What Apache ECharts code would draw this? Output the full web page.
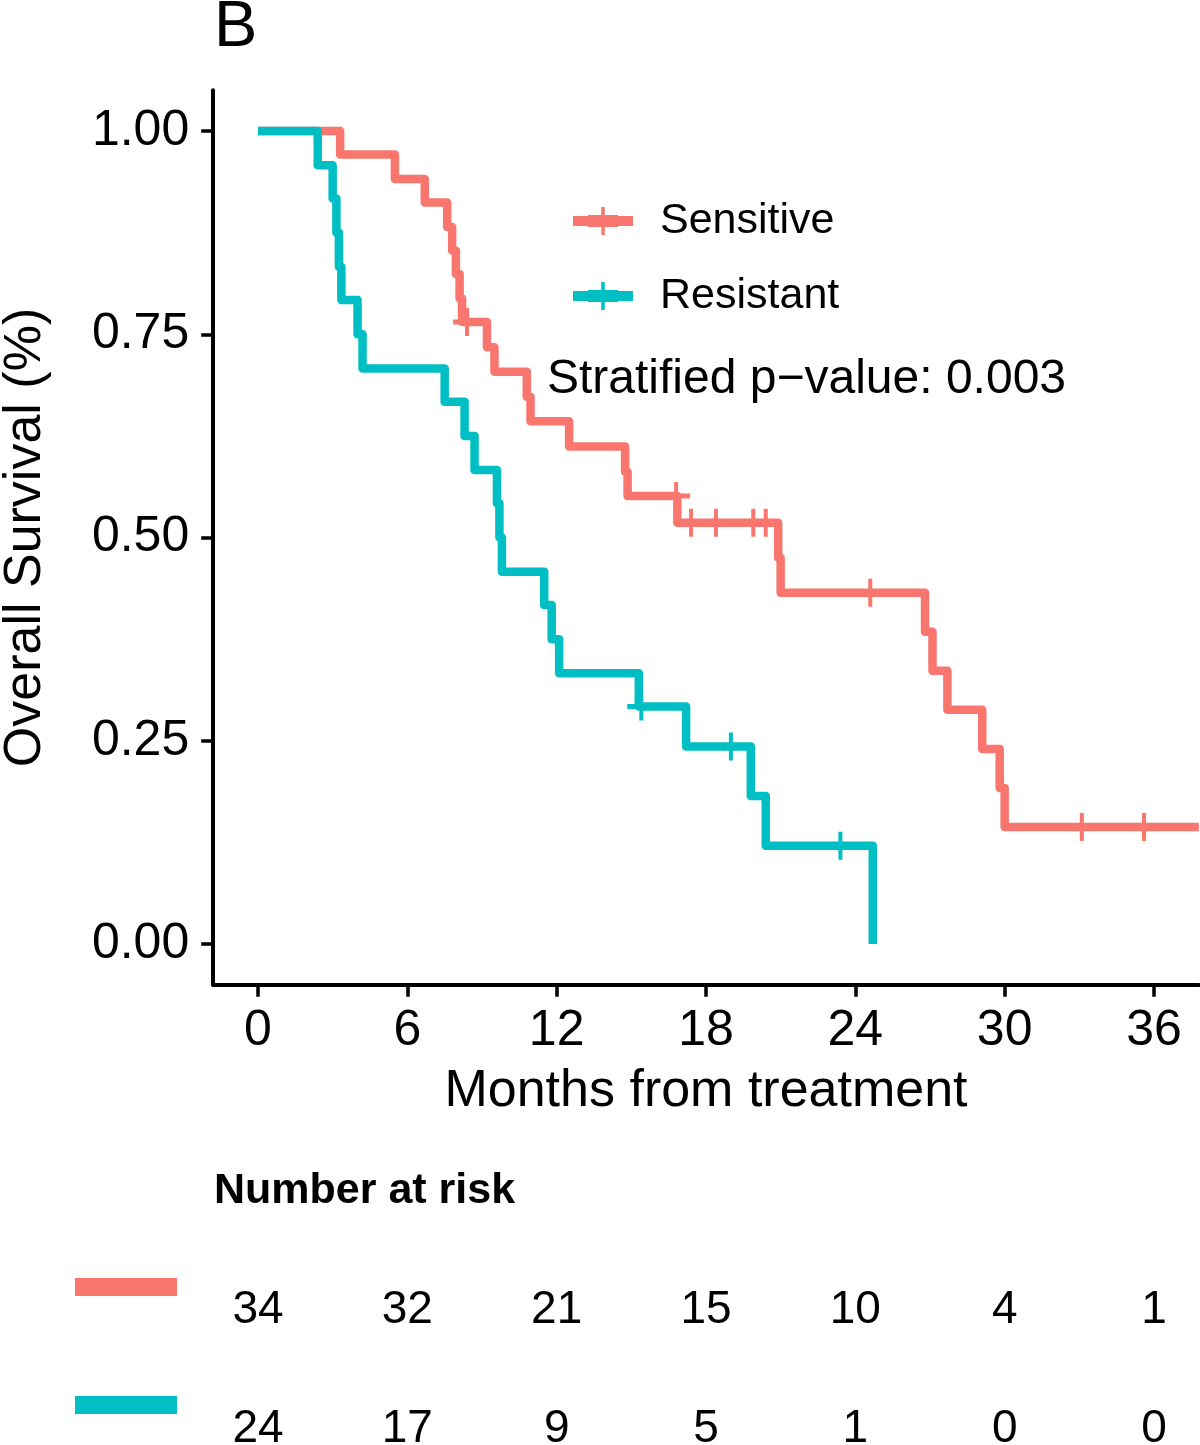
<!DOCTYPE html>
<html>
<head>
<meta charset="utf-8">
<title>Overall survival</title>
<script src="https://cdn.jsdelivr.net/npm/echarts@6/dist/echarts.min.js"></script>
<style>
  html, body { margin: 0; padding: 0; background: #fff; }
  #main { width: 1200px; height: 1445px; }
</style>
</head>
<body>
<div id="main"></div>
<script>
// Sensitive: time of each step (months) and survival after it
let sensTime = [0, 3.3, 5.5, 6.7, 7.6, 7.8, 7.95, 8.1, 8.2, 9.2, 9.5, 10.8, 10.95, 12.5, 14.75, 14.85, 16.85, 20.9, 21.0, 26.8, 27.1, 27.7, 29.1, 29.8, 30.0, 37.8];
let sensSurv = [1, 0.971, 0.941, 0.912, 0.882, 0.853, 0.824, 0.794, 0.765, 0.734, 0.704, 0.673, 0.643, 0.612, 0.581, 0.551, 0.518, 0.475, 0.432, 0.384, 0.336, 0.288, 0.240, 0.192, 0.144, 0.144];
// Sensitive: censored patients
let sensCensTime = [8.4, 16.8, 17.4, 18.4, 19.9, 20.4, 24.6, 33.1, 35.6];
let sensCensSurv = [0.765, 0.551, 0.518, 0.518, 0.518, 0.518, 0.432, 0.144, 0.144];

// Resistant
let resTime = [0, 2.4, 3.0, 3.15, 3.25, 3.35, 4.0, 4.2, 7.5, 8.3, 8.7, 9.6, 9.7, 9.8, 11.5, 11.8, 12.1, 15.3, 17.2, 19.8, 20.4, 24.7];
let resSurv = [1, 0.958, 0.917, 0.875, 0.833, 0.792, 0.75, 0.708, 0.667, 0.625, 0.583, 0.542, 0.5, 0.458, 0.417, 0.375, 0.333, 0.292, 0.243, 0.182, 0.121, 0];
let resCensTime = [15.4, 19.0, 23.4];
let resCensSurv = [0.292, 0.243, 0.121];

// axes and number at risk
let xTicks = [0, 6, 12, 18, 24, 30, 36];
let yTicks = [0, 0.25, 0.5, 0.75, 1];
let sensRisk = [34, 32, 21, 15, 10, 4, 1];
let resRisk = [24, 17, 9, 5, 1, 0, 0];

const RED = '#F8766D';
const TEAL = '#00BFC4';
const FONT = '"Liberation Sans", Arial, sans-serif';
// "+" used for censored patients
const PLUS = 'path://M12,0 L16,0 L16,11.5 L28,11.5 L28,16.5 L16,16.5 L16,28 L12,28 L12,16.5 L0,16.5 L0,11.5 L12,11.5 Z';
// legend key: line with a censor mark on it
const KEY = 'path://M0,9 L15,9 L15,8 L28.25,8 L28.25,0 L31.75,0 L31.75,8 L45,8 L45,9 L60,9 L60,19 L45,19 L45,20 L31.75,20 L31.75,28 L28.25,28 L28.25,20 L15,20 L15,19 L0,19 Z';

function pairs(a, b) {
  return a.map((v, i) => [v, b[i]]);
}

let chart = echarts.init(document.getElementById('main'));

let option = {
  animation: false,
  textStyle: { fontFamily: FONT, color: '#000' },
  title: [
    { text: 'B', left: 214, top: -4, padding: 0,
      textStyle: { fontFamily: FONT, fontSize: 65, lineHeight: 65, fontWeight: 'normal', color: '#000' } },
    { text: 'Stratified p\u2212value: 0.003', left: 547, top: 356, padding: 0,
      textStyle: { fontFamily: FONT, fontSize: 48, lineHeight: 48, fontWeight: 'normal', color: '#000' } },
    { text: 'Number at risk', left: 214, top: 1170, padding: 0,
      textStyle: { fontFamily: FONT, fontSize: 43, lineHeight: 43, fontWeight: 'bold', color: '#000' } }
  ],
  legend: [
    {
      data: ['Sensitive', 'Resistant'],
      orient: 'vertical', left: 573, top: 199, padding: 0,
      itemWidth: 60, itemHeight: 28, itemGap: 31,
      icon: KEY, selectedMode: false,
      itemStyle: { borderWidth: 0 },
      textStyle: { fontFamily: FONT, fontSize: 43, lineHeight: 44, color: '#000', padding: [0, 0, 0, 22] }
    },
    {
      // coloured keys of the risk table
      data: ['Sensitive', 'Resistant'],
      orient: 'vertical', left: 75, top: 1278, padding: 0,
      itemWidth: 102, itemHeight: 18, itemGap: 100,
      icon: 'rect', selectedMode: false,
      itemStyle: { borderWidth: 0 },
      formatter: () => '',
      textStyle: { fontSize: 10, lineHeight: 10 }
    }
  ],
  grid: [
    { left: 213.2, right: 1.2, top: 90.35, bottom: 460.35, outerBoundsMode: 'none' },
    { left: 213.2, right: 1.2, top: 1310, bottom: 16, outerBoundsMode: 'none' }
  ],
  xAxis: [
    {
      type: 'value', min: -1.8, max: 37.8,
      name: 'Months from treatment', nameLocation: 'middle', nameGap: 81,
      nameTextStyle: { fontFamily: FONT, fontSize: 52, lineHeight: 52, color: '#000' },
      axisLine: { onZero: false, lineStyle: { color: '#000', width: 4 } },
      axisTick: { customValues: xTicks, length: 12, lineStyle: { color: '#000', width: 3.5 } },
      axisLabel: { customValues: xTicks, fontFamily: FONT, fontSize: 50, lineHeight: 50, margin: 22, color: '#000' },
      splitLine: { show: false }
    },
    { gridIndex: 1, type: 'value', min: -1.8, max: 37.8, show: false }
  ],
  yAxis: [
    {
      type: 'value', min: -0.05, max: 1.05,
      name: 'Overall Survival (%)', nameLocation: 'middle', nameGap: 162,
      nameTextStyle: { fontFamily: FONT, fontSize: 52, lineHeight: 52, color: '#000' },
      axisLine: { onZero: false, lineStyle: { color: '#000', width: 4 } },
      axisTick: { customValues: yTicks, length: 12, lineStyle: { color: '#000', width: 3.5 } },
      axisLabel: { customValues: yTicks, formatter: v => v.toFixed(2), fontFamily: FONT, fontSize: 50, lineHeight: 50, margin: 24, color: '#000' },
      splitLine: { show: false }
    },
    { gridIndex: 1, type: 'value', min: 0, max: 1, show: false }
  ],
  series: [
    {
      name: 'Sensitive', type: 'line', step: 'end', symbol: 'none',
      data: pairs(sensTime, sensSurv),
      color: RED, lineStyle: { width: 8.5, join: 'round' }, z: 2
    },
    {
      name: 'Resistant', type: 'line', step: 'end', symbol: 'none',
      data: pairs(resTime, resSurv),
      color: TEAL, lineStyle: { width: 8.5, join: 'round' }, z: 3
    },
    {
      name: 'Sensitive censored', type: 'scatter', symbol: PLUS, symbolSize: 28,
      data: pairs(sensCensTime, sensCensSurv),
      itemStyle: { color: RED, opacity: 1 }, z: 4
    },
    {
      name: 'Resistant censored', type: 'scatter', symbol: PLUS, symbolSize: 28,
      data: pairs(resCensTime, resCensSurv),
      itemStyle: { color: TEAL, opacity: 1 }, z: 4
    },
    // number at risk table
    {
      name: 'risk sensitive', type: 'scatter', xAxisIndex: 1, yAxisIndex: 1,
      data: xTicks.map((t, i) => [t, 1, sensRisk[i]]),
      symbolSize: 1, itemStyle: { color: 'rgba(0,0,0,0)', opacity: 1 }, silent: true,
      label: { show: true, position: 'inside', formatter: p => p.value[2],
        fontFamily: FONT, fontSize: 46, color: '#000' }
    },
    {
      name: 'risk resistant', type: 'scatter', xAxisIndex: 1, yAxisIndex: 1,
      data: xTicks.map((t, i) => [t, 0, resRisk[i]]),
      symbolSize: 1, itemStyle: { color: 'rgba(0,0,0,0)', opacity: 1 }, silent: true,
      label: { show: true, position: 'inside', formatter: p => p.value[2],
        fontFamily: FONT, fontSize: 46, color: '#000' }
    }
  ]
};

chart.setOption(option);
</script>
</body>
</html>
